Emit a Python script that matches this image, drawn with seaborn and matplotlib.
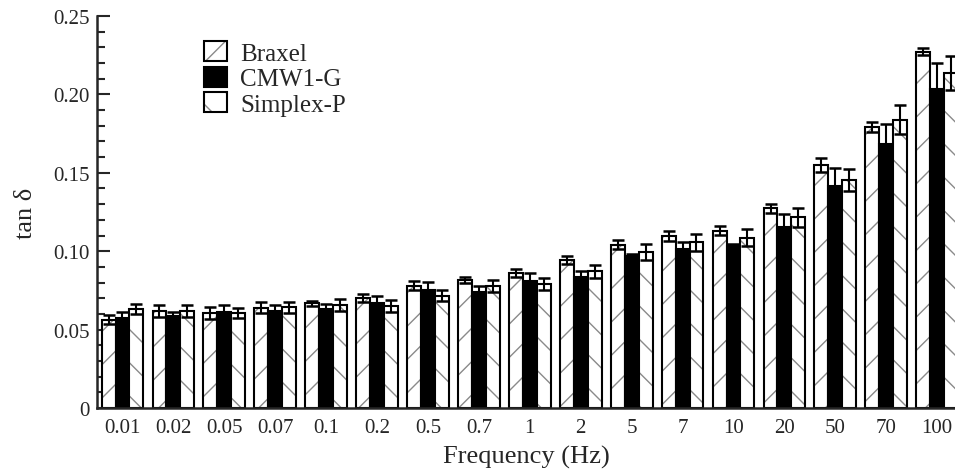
import matplotlib
matplotlib.use("Agg")
import matplotlib.pyplot as plt
import seaborn as sns
import pandas as pd

frequencies = ["0.01", "0.02", "0.05", "0.07", "0.1", "0.2", "0.5", "0.7", "1", "2",
               "5", "7", "10", "20", "50", "70", "100"]
materials = ["Braxel", "CMW1-G", "Simplex-P"]

braxel = [0.0563, 0.0620, 0.0606, 0.0638, 0.0668, 0.0702, 0.0780, 0.0816, 0.0861, 0.0944,
          0.1042, 0.1095, 0.1131, 0.1273, 0.1550, 0.1790, 0.2273]
braxel_err = [0.0030, 0.0040, 0.0037, 0.0035, 0.0015, 0.0027, 0.0029, 0.0018, 0.0027, 0.0027,
              0.0030, 0.0033, 0.0030, 0.0027, 0.0045, 0.0032, 0.0024]
cmw1g = [0.0572, 0.0585, 0.0610, 0.0620, 0.0631, 0.0670, 0.0753, 0.0738, 0.0812, 0.0833,
         0.0967, 0.1014, 0.1035, 0.1157, 0.1414, 0.1684, 0.2034]
cmw1g_err = [0.0038, 0.0030, 0.0050, 0.0040, 0.0030, 0.0047, 0.0053, 0.0043, 0.0047, 0.0038,
             0.0015, 0.0043, 0.0010, 0.0081, 0.0115, 0.0128, 0.0164]
simplex = [0.0631, 0.0617, 0.0606, 0.0642, 0.0657, 0.0649, 0.0716, 0.0780, 0.0791, 0.0872,
           0.0997, 0.1057, 0.1086, 0.1216, 0.1456, 0.1839, 0.2136]
simplex_err = [0.0030, 0.0037, 0.0030, 0.0036, 0.0037, 0.0037, 0.0035, 0.0038, 0.0040, 0.0040,
               0.0050, 0.0053, 0.0055, 0.0060, 0.0071, 0.0092, 0.0106]

values = [braxel, cmw1g, simplex]
errors = [braxel_err, cmw1g_err, simplex_err]

rows = []
for m, vals in zip(materials, values):
    for f, v in zip(frequencies, vals):
        rows.append({"Frequency": f, "Material": m, "tan": v})
df = pd.DataFrame(rows)

sns.set_style("ticks")
plt.rcParams["font.family"] = ["Liberation Serif", "DejaVu Serif"]
plt.rcParams["hatch.linewidth"] = 1.0

fig = plt.figure(figsize=(9.55, 4.77), dpi=100)
ax = fig.add_axes([97 / 955, 1 - 409 / 477, 858 / 955, 392 / 477])

palette = {"Braxel": "white", "CMW1-G": "black", "Simplex-P": "white"}
sns.barplot(data=df, x="Frequency", y="tan", hue="Material", order=frequencies,
            hue_order=materials, palette=palette, errorbar=None, width=0.82,
            edgecolor="black", linewidth=1.5, ax=ax, legend=False, zorder=2)

hatches = ["/", None, "\\"]
for cont, h, errs in zip(ax.containers, hatches, errors):
    xs, ys = [], []
    for p in cont:
        if h:
            p.set_hatch(h)
            try:
                p.set_hatchcolor("#8a8a8a")
            except Exception:
                p._hatch_color = (0.54, 0.54, 0.54, 1.0)
        xs.append(p.get_x() + p.get_width() / 2)
        ys.append(p.get_height())
    ax.errorbar(xs, ys, yerr=errs, fmt="none", ecolor="black", elinewidth=1.5,
                capsize=4.5, capthick=1.8, zorder=3)

ax.set_xlim(-0.5, 16.35)
ax.set_ylim(0, 0.25)
ax.set_yticks([0, 0.05, 0.10, 0.15, 0.20, 0.25])
ax.set_yticklabels(["0", "0.05", "0.10", "0.15", "0.20", "0.25"])
ax.set_yticks([i * 0.01 for i in range(26)], minor=True)
ax.tick_params(axis="y", which="major", direction="in", length=9, width=1.5,
               labelsize=15, pad=5)
ax.tick_params(axis="y", which="minor", direction="in", length=6, width=1.5)
ax.tick_params(axis="x", which="both", length=0, labelsize=15, pad=7)

for s in ["top", "right"]:
    ax.spines[s].set_visible(False)
for s in ["left", "bottom"]:
    ax.spines[s].set_linewidth(1.8)
    ax.spines[s].set_zorder(5)

ax.set_xlabel("Frequency (Hz)", fontsize=19, labelpad=6)
ax.set_ylabel("tan δ", fontsize=19, labelpad=12)

handles = [ax.containers[i][0] for i in range(3)]
ax.legend(handles, materials, loc="upper left",
          bbox_to_anchor=((204 - 97) / 858, (409 - 42) / 392),
          frameon=False, fontsize=18, handlelength=0.9, handleheight=0.85,
          handletextpad=0.55, labelspacing=0.08, borderpad=0, borderaxespad=0)

fig.savefig("out.png", dpi=100)
